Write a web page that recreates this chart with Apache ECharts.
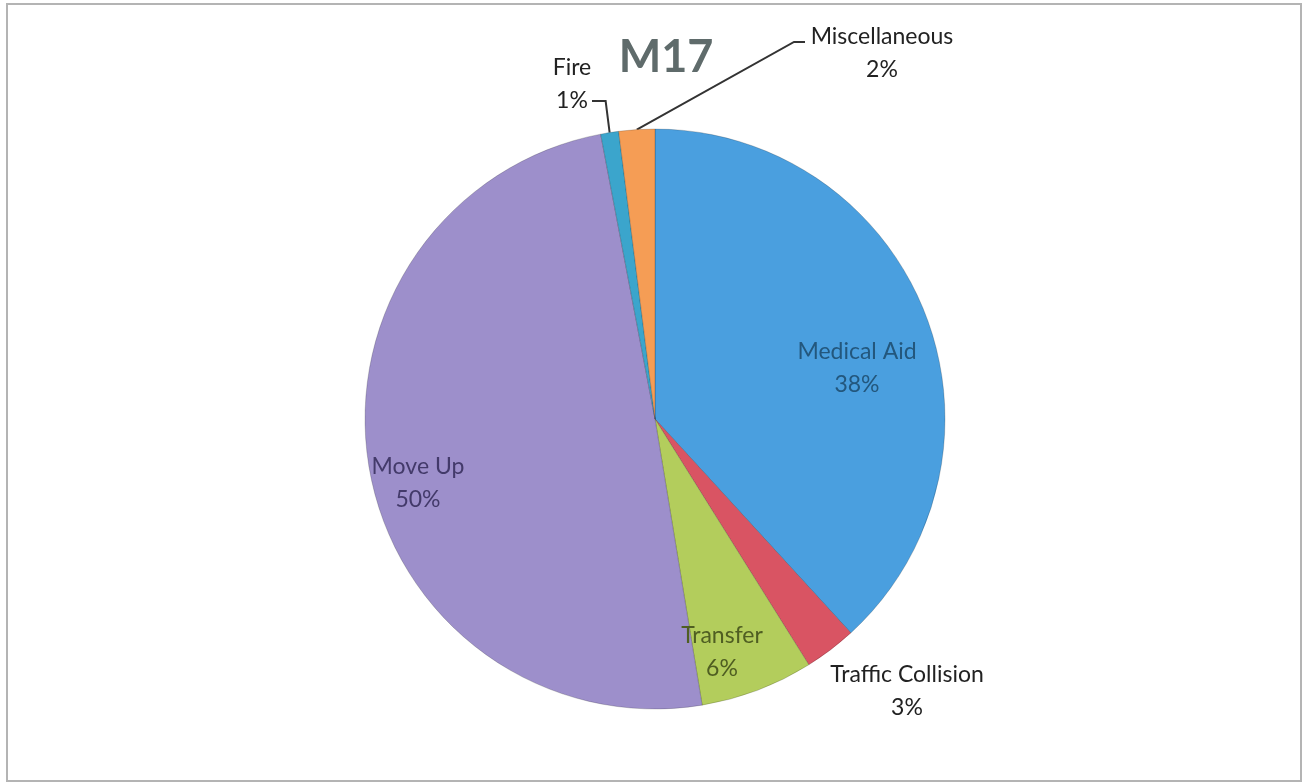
<!DOCTYPE html>
<html>
<head>
<meta charset="utf-8">
<script src="https://cdn.jsdelivr.net/npm/echarts@6/dist/echarts.min.js"></script>
<style>
  html, body { margin: 0; padding: 0; background: #fff; }
  #chart { width: 1314px; height: 784px; }
</style>
</head>
<body>
<div id="chart"></div>
<script>
// M17 call types (share of calls)
var categories = ['Medical Aid', 'Traffic Collision', 'Transfer', 'Move Up', 'Fire', 'Miscellaneous'];
var values = [38.2, 2.9, 6.3, 49.6, 1.0, 2.0];
var colors = ['#4a9fdf', '#d95463', '#b3cd5c', '#9d8fcb', '#3ba5cc', '#f59d55'];

// where each label sits (excel puts them by hand, so do the same)
var labelPos = {
    'Medical Aid':       { x: 857, y: 368, color: '#23577d' },
    'Traffic Collision': { x: 907, y: 691, color: '#222' },
    'Transfer':          { x: 722, y: 652, color: '#4f5e22' },
    'Move Up':           { x: 418, y: 483, color: '#433a6a' },
    'Fire':              { x: 572, y: 84,  color: '#222', line: 'fire' },
    'Miscellaneous':     { x: 882, y: 53,  color: '#222', line: 'misc' }
};

var myChart = echarts.init(document.getElementById('chart'));

var pieData = categories.map(function (name, i) {
    return {
        name: name,
        value: values[i],
        itemStyle: { color: colors[i] },
        label: { color: labelPos[name].color },
        labelLine: { show: !!labelPos[name].line }
    };
});

var option = {
    animation: false,
    title: {
        text: 'M17',
        left: 661,
        top: 30,
        textAlign: 'center',
        textStyle: {
            fontFamily: 'Lato',
            fontSize: 45,
            fontWeight: 'bold',
            color: '#5f6b6b'
        }
    },
    graphic: [{
        type: 'rect',
        shape: { x: 7, y: 4, width: 1294, height: 777 },
        style: { fill: 'none', stroke: '#b4b4b4', lineWidth: 2 },
        silent: true
    }],
    series: [{
        type: 'pie',
        center: [655, 419],
        radius: 290,
        startAngle: 90,
        clockwise: true,
        avoidLabelOverlap: false,
        itemStyle: {
            borderColor: 'rgba(0,0,0,0.18)',
            borderWidth: 1
        },
        label: {
            show: true,
            position: 'outside',
            fontFamily: 'Lato',
            fontSize: 23,
            lineHeight: 33,
            align: 'center',
            formatter: function (p) {
                return p.name + '\n' + Math.round(p.percent) + '%';
            }
        },
        labelLine: {
            lineStyle: { color: '#333', width: 2 }
        },
        labelLayout: function (params) {
            var name = categories[params.dataIndex];
            var pos = labelPos[name];
            var out = { x: pos.x, y: pos.y, align: 'center', verticalAlign: 'middle' };
            var start = params.labelLinePoints ? params.labelLinePoints[0] : null;
            if (pos.line === 'fire' && start) {
                out.labelLinePoints = [start, [start[0] - 4, pos.y + 17], [pos.x + 20, pos.y + 17]];
            } else if (pos.line === 'misc' && start) {
                out.labelLinePoints = [start, [pos.x - 88, pos.y - 11], [pos.x - 77, pos.y - 11]];
            }
            return out;
        },
        data: pieData
    }]
};

myChart.setOption(option);
</script>
</body>
</html>
